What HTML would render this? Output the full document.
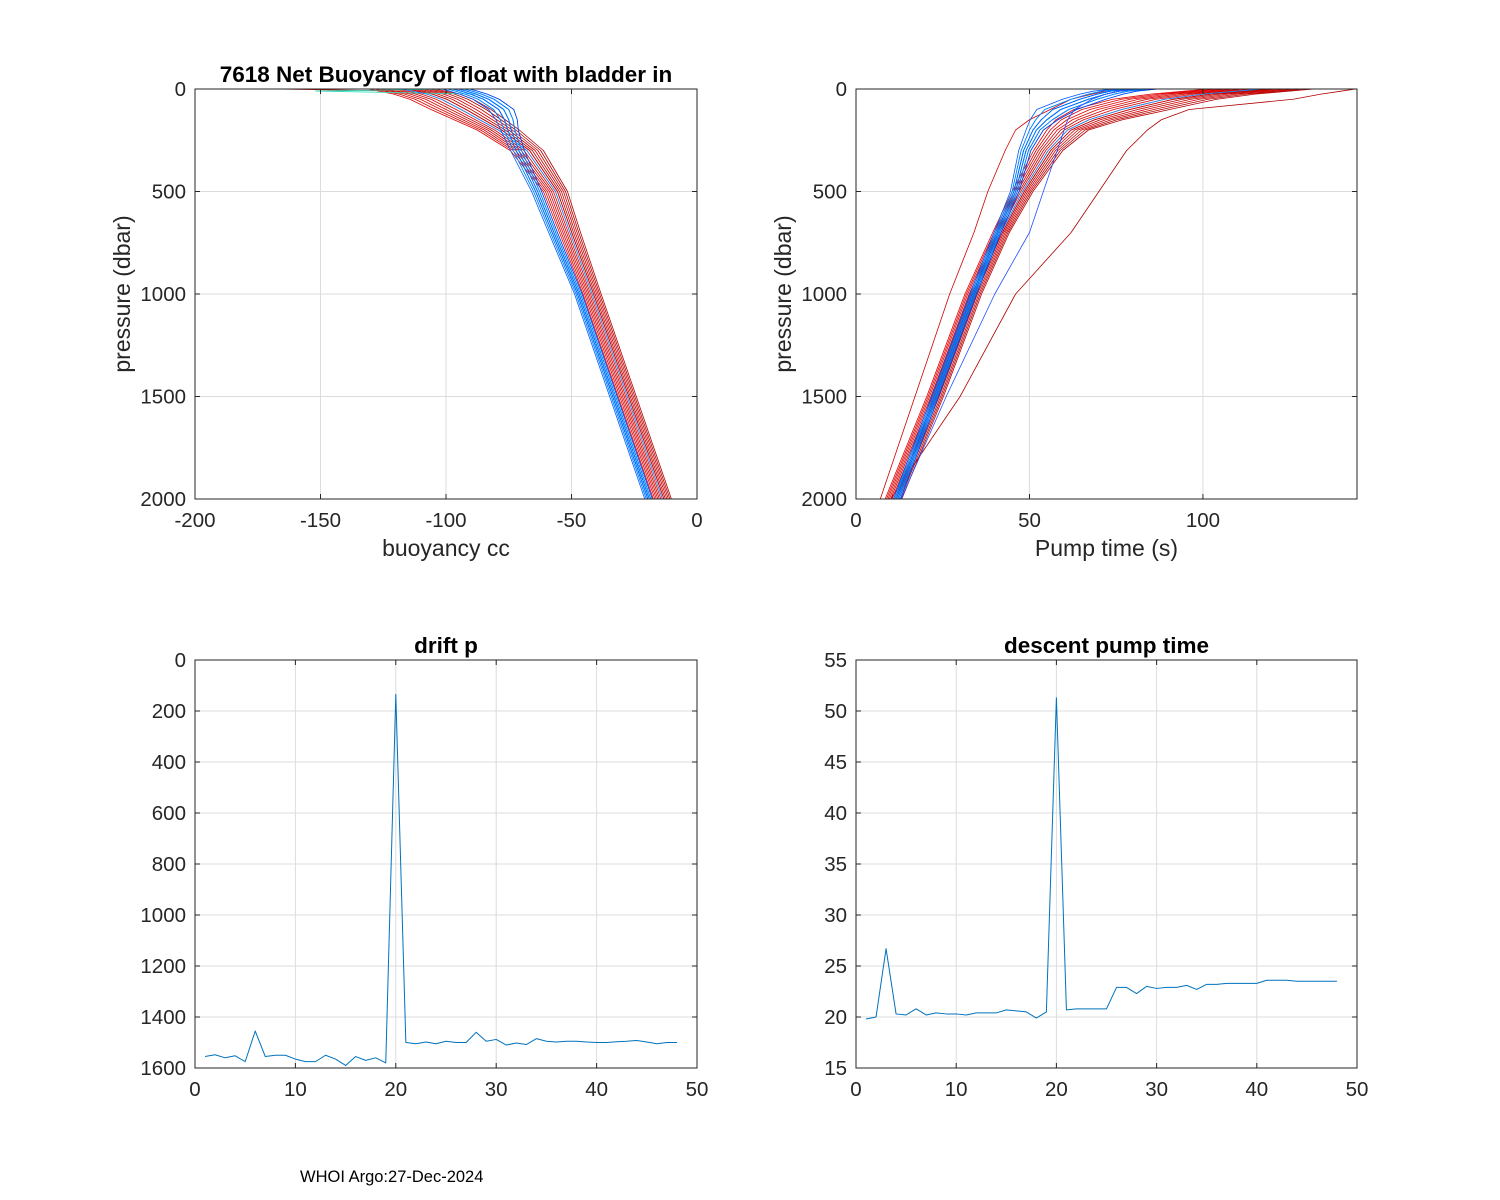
<!DOCTYPE html>
<html><head><meta charset="utf-8"><style>
body{margin:0;background:#fff;}
svg{display:block;font-family:"Liberation Sans",Arial,sans-serif;}
</style></head><body>
<svg id="fig" width="1500" height="1200" viewBox="0 0 1500 1200" xmlns="http://www.w3.org/2000/svg">
<rect width="1500" height="1200" fill="#fff"/>
<text x="300" y="1182" font-size="16.5" fill="#000">WHOI Argo:27-Dec-2024</text>
</svg>
<script>
// ---------- data ----------
const profPressures=[0,10,25,50,100,150,200,300,500,700,1000,1500,2000];
const buoyBlue=[-95,-92,-88,-83,-77,-75,-74,-71,-63.5,-57,-47,-33,-19];
const buoyRed=[-122,-118,-112,-106,-98,-90,-82,-70,-58,-52,-43,-29,-15];
const pumpBlue=[82,76,72,67,59,55,52,49,46,41,34,23,12];
const pumpRed=[112,105,95,84,72,64,59,54,47,41,33,22,10];
const pumpOutlierRight=[144,140,134,126,96,88,84,78,70,62,46,30,10];
const pumpOutlierLeft=[75,72,68,62,56,50,46,43,38,34,27,17,7];
const pumpOutlierBlue=[80,76,72,68,63,61,60,58,54,50,40,26,13];
const profileColors=['#c80000','#d40000','#e00000','#cc0000','#b00000','#e60000','#d00000','#c00000','#dd0000','#b80000','#e00000','#cc0000','#d80000','#c40000',
 '#40ffb0','#30e0c0','#00e0ff','#00c8ff','#00ffff','#20d0e0',
 '#0060ff','#0080ff','#0050ff','#0070ff','#1090ff','#0040ff','#0066ff','#0088ff','#0058ff','#0078ff','#0030ff','#0068ff'];
const profileOffsets=[0,3,-2,5,7,-4,2,4,-1,8,1,6,-3,3,
 2,0,-1,1,-2,0,
 0,-1,1,-2,2,0,-1,1,-3,0,2,-1];
const dayIndex=[1,2,3,4,5,6,7,8,9,10,11,12,13,14,15,16,17,18,19,20,21,22,23,24,25,26,27,28,29,30,31,32,33,34,35,36,37,38,39,40,41,42,43,44,45,46,47,48];
const driftP=[1555,1548,1560,1552,1575,1455,1555,1550,1550,1565,1575,1575,1550,1565,1590,1555,1570,1560,1580,135,1500,1505,1498,1505,1495,1500,1500,1460,1495,1488,1510,1502,1508,1485,1495,1498,1495,1495,1498,1500,1500,1497,1495,1492,1498,1505,1500,1500];
const descentPump=[19.8,20,26.7,20.3,20.2,20.8,20.2,20.4,20.3,20.3,20.2,20.4,20.4,20.4,20.7,20.6,20.5,19.9,20.5,51.3,20.7,20.8,20.8,20.8,20.8,22.9,22.9,22.3,23,22.8,22.9,22.9,23.1,22.7,23.2,23.2,23.3,23.3,23.3,23.3,23.6,23.6,23.6,23.5,23.5,23.5,23.5,23.5];
const tlXTicks=[-200,-150,-100,-50,0];
const trXTicks=[0,50,100];
const topYTicks=[0,500,1000,1500,2000];
const blXTicks=[0,10,20,30,40,50];
const blYTicks=[0,200,400,600,800,1000,1200,1400,1600];
const brYTicks=[15,20,25,30,35,40,45,50,55];
// spread factor per pressure level (how much profile offsets fan out)
const buoySpread=[2.2,2.2,2.2,2.1,2,1.7,1.4,1.1,0.8,0.7,0.6,0.6,0.6];
const pumpSpread=[2.5,2.5,2.5,2.5,2.3,1.6,1.0,0.7,0.5,0.4,0.4,0.4,0.4];

// ---------- helpers ----------
const NS='http://www.w3.org/2000/svg';
const svg=document.getElementById('fig');
function mk(tag,attrs,parent){const e=document.createElementNS(NS,tag);for(const k in attrs)e.setAttribute(k,attrs[k]);(parent||svg).appendChild(e);return e;}
function axes(o){
  const g=mk('g',{});
  
  
  const sx=v=>o.x0+(v-o.xmin)/(o.xmax-o.xmin)*(o.x1-o.x0);
  const sy=o.yrev? v=>o.y0+(v-o.ymin)/(o.ymax-o.ymin)*(o.y1-o.y0) : v=>o.y1-(v-o.ymin)/(o.ymax-o.ymin)*(o.y1-o.y0);
  mk('rect',{x:o.x0,y:o.y0,width:o.x1-o.x0,height:o.y1-o.y0,fill:'#fff'},g);
  o.xt.forEach(t=>{const x=sx(t);mk('line',{x1:x,x2:x,y1:o.y0,y2:o.y1,stroke:'#dcdcdc','stroke-width':1},g);});
  o.yt.forEach(t=>{const y=sy(t);mk('line',{x1:o.x0,x2:o.x1,y1:y,y2:y,stroke:'#dcdcdc','stroke-width':1},g);});
  const plot=mk('g',{},g);
  const cid='c'+o.name;
  const cp=mk('clipPath',{id:cid},g);mk('rect',{x:o.x0,y:o.y0,width:o.x1-o.x0,height:o.y1-o.y0},cp);
  plot.setAttribute('clip-path','url(#'+cid+')');
  const frame=mk('g',{},g);
  mk('rect',{x:o.x0,y:o.y0,width:o.x1-o.x0,height:o.y1-o.y0,fill:'none',stroke:'#262626','stroke-width':1},frame);
  o.xt.forEach(t=>{const x=sx(t);
    mk('line',{x1:x,x2:x,y1:o.y1,y2:o.y1-5,stroke:'#262626'},frame);
    mk('line',{x1:x,x2:x,y1:o.y0,y2:o.y0+5,stroke:'#262626'},frame);
    const tx=mk('text',{x:x,y:o.y1+28,'font-size':20.5,'text-anchor':'middle',fill:'#262626'},frame);tx.textContent=t;
    
    });
  o.yt.forEach(t=>{const y=sy(t);
    mk('line',{x1:o.x0,x2:o.x0+5,y1:y,y2:y,stroke:'#262626'},frame);
    mk('line',{x1:o.x1,x2:o.x1-5,y1:y,y2:y,stroke:'#262626'},frame);
    const tx=mk('text',{x:o.x0-9,y:y+7,'font-size':20.5,'text-anchor':'end',fill:'#262626'},frame);tx.textContent=t;
    
    });
  if(o.title){const t=mk('text',{x:(o.x0+o.x1)/2,y:o.y0-7,'font-size':22.5,'font-weight':'bold','text-anchor':'middle',fill:'#000'},frame);t.textContent=o.title;
    
    }
  if(o.xlabel){const t=mk('text',{x:(o.x0+o.x1)/2,y:o.y1+57,'font-size':23,'text-anchor':'middle',fill:'#262626'},frame);t.textContent=o.xlabel;
    
    }
  if(o.ylabel){const cy=(o.y0+o.y1)/2,cx=o.x0-65;const t=mk('text',{x:cx,y:cy,'font-size':23,'text-anchor':'middle',fill:'#262626',transform:'rotate(-90 '+cx+' '+cy+')'},frame);t.textContent=o.ylabel;
    
    }
  return {sx,sy,plot};
}
function line(ax,xs,ys,color,w,name){
  const d=xs.map((x,i)=>(i?'L':'M')+ax.sx(x).toFixed(2)+' '+ax.sy(ys[i]).toFixed(2)).join(' ');
  const p=mk('path',{d:d,fill:'none',stroke:color,'stroke-width':w,'stroke-linejoin':'round'},ax.plot);
  
  
  return p;
}
function isRedColor(c){return '0234'.indexOf(c.charAt(1))<0;}

// ---------- top-left: buoyancy ----------
const tl=axes({name:'buoyancy-axes',x0:195,x1:697,y0:89,y1:499,xmin:-200,xmax:0,ymin:0,ymax:2000,yrev:true,xt:tlXTicks,yt:topYTicks,
  title:'7618 Net Buoyancy of float with bladder in',xlabel:'buoyancy cc',ylabel:'pressure (dbar)'});
profileColors.forEach((c,i)=>{
  const base=isRedColor(c)?buoyRed:buoyBlue;
  const vals=base.map((v,k)=>v+profileOffsets[i]*buoySpread[k]);
  if(i===15) vals[1]=-152;
  if(i===0) vals[0]=-168;
  line(tl,vals,profPressures,c,0.8,'buoyancy-profile');
});
// ---------- top-right: pump time ----------
const tr=axes({name:'pump-time-axes',x0:856,x1:1357,y0:89,y1:499,xmin:0,xmax:144.4,ymin:0,ymax:2000,yrev:true,xt:trXTicks,yt:topYTicks,
  xlabel:'Pump time (s)',ylabel:'pressure (dbar)'});
line(tr,pumpOutlierRight,profPressures,'#b00000',0.8,'pump-profile-outlier');
line(tr,pumpOutlierLeft,profPressures,'#d00000',0.8,'pump-profile-outlier');
profileColors.forEach((c,i)=>{
  const base=isRedColor(c)?pumpRed:pumpBlue;
  const vals=base.map((v,k)=>v+profileOffsets[i]*pumpSpread[k]);
  line(tr,vals,profPressures,c,0.8,'pump-profile');
});
line(tr,pumpOutlierBlue,profPressures,'#2050ff',0.8,'pump-profile-outlier');
// ---------- bottom-left: drift p ----------
const bl=axes({name:'drift-p-axes',x0:195,x1:697,y0:660,y1:1068,xmin:0,xmax:50,ymin:0,ymax:1600,yrev:true,xt:blXTicks,yt:blYTicks,title:'drift p'});
line(bl,dayIndex,driftP,'#0072BD',1,'drift-p-line');
// ---------- bottom-right: descent pump time ----------
const br=axes({name:'descent-pump-axes',x0:856,x1:1357,y0:660,y1:1068,xmin:0,xmax:50,ymin:15,ymax:55,yrev:false,xt:blXTicks,yt:brYTicks,title:'descent pump time'});
line(br,dayIndex,descentPump,'#0072BD',1,'descent-pump-line');
</script>
</body></html>
